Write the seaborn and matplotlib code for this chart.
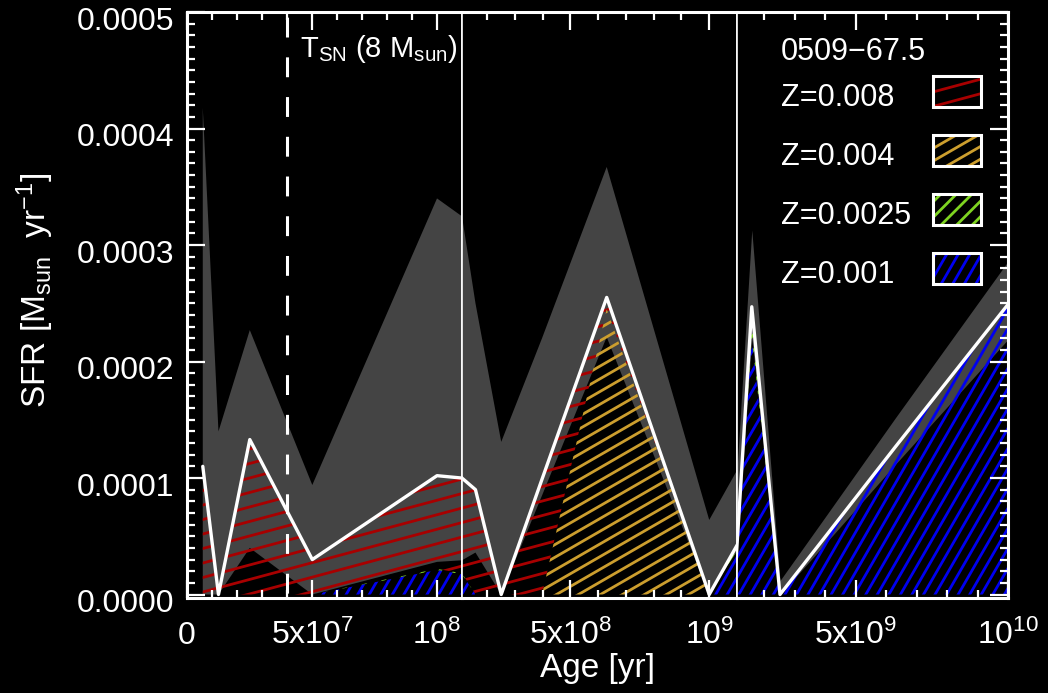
import numpy as np
import pandas as pd
import matplotlib
matplotlib.use("Agg")
import matplotlib.pyplot as plt
import seaborn as sns
from matplotlib.collections import LineCollection
from matplotlib.patches import Rectangle
from matplotlib.transforms import IdentityTransform, ScaledTranslation

# age bins (log10 yr) and SFR per metallicity, in units of 1e-4 Msun/yr
log_age = [6.8, 7.1, 7.4, 7.7, 8.0, 8.2, 8.4, 8.6, 8.8, 9.0, 9.2, 9.4, 9.6, 9.8, 10.0]
sfr_z008 = [1.10, 0.0, 1.33, 0.30, 0.80, 0.90, 0.0, 0.99, 0.10, 0.0, 0.0, 0.0, 0.0, 0.0, 0.0]
sfr_z004 = [0.0, 0.0, 0.0, 0.0, 0.0, 0.0, 0.0, 0.0, 2.45, 0.0, 0.0, 0.0, 0.0, 0.0, 0.0]
sfr_z0025 = [0.0, 0.0, 0.0, 0.0, 0.01, 0.0, 0.0, 0.0, 0.0, 0.0, 0.27, 0.0, 0.0, 0.0, 0.0]
sfr_z001 = [0.0, 0.0, 0.0, 0.0, 0.21, 0.0, 0.0, 0.0, 0.0, 0.0, 2.20, 0.0, 0.49, 1.27, 2.49]
# total uncertainty band
sfr_upper = [4.18, 1.40, 2.27, 0.94, 3.40, 2.50, 1.31, 2.20, 3.67, 0.64, 3.13, 0.12, 0.66, 1.52, 2.86]
sfr_lower = [0.0, 0.0, 0.40, 0.0, 0.28, 0.36, 0.0, 0.85, 2.21, 0.0, 2.20, 0.0, 0.43, 1.12, 2.19]

t_sn = 4e7  # lifetime of a 8 Msun star
snr_name = "0509\u221267.5"
metal_labels = ["Z=0.008", "Z=0.004", "Z=0.0025", "Z=0.001"]
metal_colors = ["#a80000", "#cc9e2e", "#7ed321", "#0000f0"]
hatch_angles = [15, 30, 45, 60]
hatch_gaps = [14, 11, 11, 10]

# three linear panels side by side: (xmin, xmax, left px, right px)
panels = [(0, 1.1e8, 187, 462), (1.1e8, 1.1e9, 462, 737), (1.1e9, 1e10, 737, 1008)]
xticks = [[0, 5e7, 1e8], [5e8, 1e9], [5e9, 1e10]]
xticklabels = [["0", r"5x10$^{7}$", r"10$^{8}$"],
               [r"5x10$^{8}$", r"10$^{9}$"],
               [r"5x10$^{9}$", r"10$^{10}$"]]
xminor = [np.arange(1e7, 1.1e8, 1e7), np.arange(2e8, 1.1e9, 1e8), np.arange(2e9, 1e10, 1e9)]

age = 10 ** np.array(log_age)
s = 1e-4
blue = np.array(sfr_z001) * s
green = np.array(sfr_z0025) * s
yellow = np.array(sfr_z004) * s
red = np.array(sfr_z008) * s
lev0 = np.zeros_like(age)
lev1 = lev0 + blue
lev2 = lev1 + green
lev3 = lev2 + yellow
total = lev3 + red
# order matches metal_labels (red, yellow, green, blue)
layers = [(lev3, total), (lev2, lev3), (lev1, lev2), (lev0, lev1)]
df = pd.DataFrame({"age": age, "sfr": total})

sns.set_style("dark", {"axes.facecolor": "black", "figure.facecolor": "black",
                       "axes.edgecolor": "white", "text.color": "white",
                       "xtick.color": "white", "ytick.color": "white",
                       "axes.grid": False, "axes.axisbelow": False})
plt.rcParams.update({
    "font.family": ["Liberation Sans", "DejaVu Sans"],
    "mathtext.fontset": "custom",
    "mathtext.rm": "Liberation Sans",
    "mathtext.it": "Liberation Sans",
    "mathtext.default": "rm",
    "xtick.top": True, "xtick.bottom": True,
    "ytick.left": True, "ytick.right": True,
    "xtick.direction": "in", "ytick.direction": "in",
    "xtick.major.size": 13, "xtick.minor.size": 6,
    "ytick.major.size": 13, "ytick.minor.size": 6,
    "xtick.major.width": 1.6, "xtick.minor.width": 1.6,
    "ytick.major.width": 1.6, "ytick.minor.width": 1.6,
})

W, H = 1048, 693
fig = plt.figure(figsize=(W / 100, H / 100), dpi=100, facecolor="black")
top_px, bot_px = 12, 598


def hatch(angle, gap, color, lw=2.0):
    t = np.deg2rad(angle)
    d = np.array([np.cos(t), np.sin(t)])
    n = np.array([-np.sin(t), np.cos(t)])
    c = np.array([W / 2, H / 2])
    L = 1600
    segs = [[c + k * gap * n - L * d, c + k * gap * n + L * d]
            for k in range(-int(L / gap), int(L / gap) + 1)]
    return LineCollection(segs, colors=color, linewidths=lw,
                          transform=IdentityTransform())


axes = []
for i, (x0, x1, p0, p1) in enumerate(panels):
    ax = fig.add_axes([p0 / W, 1 - bot_px / H, (p1 - p0) / W, (bot_px - top_px) / H])
    ax.set_facecolor("black")
    ax.fill_between(age, np.array(sfr_lower) * s, np.array(sfr_upper) * s,
                    color="#444444", lw=0, zorder=1)
    for (lo, hi), col, ang, gap in zip(layers, metal_colors, hatch_angles, hatch_gaps):
        poly = ax.fill_between(age, lo, hi, facecolor="none", edgecolor="none", zorder=2)
        lc = hatch(ang, gap, col)
        lc.set_zorder(2)
        ax.add_collection(lc, autolim=False)
        lc.set_clip_path(poly.get_paths()[0], ax.transData)
    sns.lineplot(data=df, x="age", y="sfr", color="white", lw=2.4, ax=ax,
                 sort=False, estimator=None, zorder=3)
    ax.set_xlim(x0, x1)
    ax.set_ylim(-0.03e-4, 5e-4)
    ax.set_xlabel("")
    ax.set_ylabel("")
    ax.set_xticks(xticks[i])
    ax.set_xticklabels(xticklabels[i], fontsize=23)
    ax.set_xticks(xminor[i], minor=True)
    ax.set_yticks(np.arange(0, 5.01e-4, 1e-4))
    ax.set_yticks(np.arange(0, 5e-4, 1e-5), minor=True)
    ax.tick_params(axis="x", which="both", direction="in", top=True, bottom=True,
                   pad=33, colors="white")
    ax.tick_params(axis="y", which="both", direction="in", colors="white",
                   left=(i == 0), right=(i == 2), labelleft=False, labelright=False)
    ax.xaxis.set_zorder(4)
    ax.yaxis.set_zorder(4)
    for lab in ax.get_xticklabels():
        lab.set_verticalalignment("baseline")
    for side in ["left", "right", "top", "bottom"]:
        ax.spines[side].set_color("white")
        ax.spines[side].set_linewidth(2.2)
    axes.append(ax)

ax1, ax2, ax3 = axes
ax1.set_yticklabels(["%.4f" % v for v in np.arange(0, 5.01e-4, 1e-4)], fontsize=23)
ax1.tick_params(axis="y", labelleft=True, pad=9)
shift = ScaledTranslation(0, -0.06, fig.dpi_scale_trans)
for lab in ax1.get_yticklabels():
    lab.set_transform(lab.get_transform() + shift)
ax1.spines["right"].set_linewidth(1.2)
ax2.spines["left"].set_linewidth(1.2)
ax2.spines["right"].set_linewidth(1.2)
ax3.spines["left"].set_linewidth(1.2)

ax1.axvline(t_sn, color="white", lw=2.2, ls=(11.4, (6.5, 6.5)), zorder=4)
fig.text(300 / W, 1 - 57 / H, r"T$_{SN}$ (8 M$_{sun}$)", fontsize=21,
         ha="left", va="baseline")

fig.text(35 / W, 1 - 290 / H, r"SFR [M$_{sun}$  yr$^{-1}$]", fontsize=24,
         rotation=90, ha="center", va="center")
fig.text(597 / W, 1 - 668 / H, "Age [yr]", fontsize=24, ha="center", va="center")

# legend in the top right corner
fig.text(781 / W, 1 - 60 / H, snr_name, fontsize=22, ha="left", va="baseline")
for j, (lab, col, ang, gap) in enumerate(zip(metal_labels, metal_colors,
                                             hatch_angles, hatch_gaps)):
    yb = 106 + 59 * j
    fig.text(781 / W, 1 - yb / H, lab, fontsize=22, ha="left", va="baseline")
    y_top = 76 + 59 * j
    box = Rectangle((933, H - y_top - 31), 48, 31, transform=IdentityTransform(),
                    facecolor="black", edgecolor="none", zorder=5)
    fig.add_artist(box)
    lc = hatch(ang, gap, col)
    lc.set_zorder(6)
    fig.add_artist(lc)
    lc.set_clip_path(box)
    edge = Rectangle((933, H - y_top - 31), 48, 31, transform=IdentityTransform(),
                     facecolor="none", edgecolor="white", lw=2.2, zorder=7)
    fig.add_artist(edge)

fig.savefig("out.png", dpi=100, facecolor="black")
